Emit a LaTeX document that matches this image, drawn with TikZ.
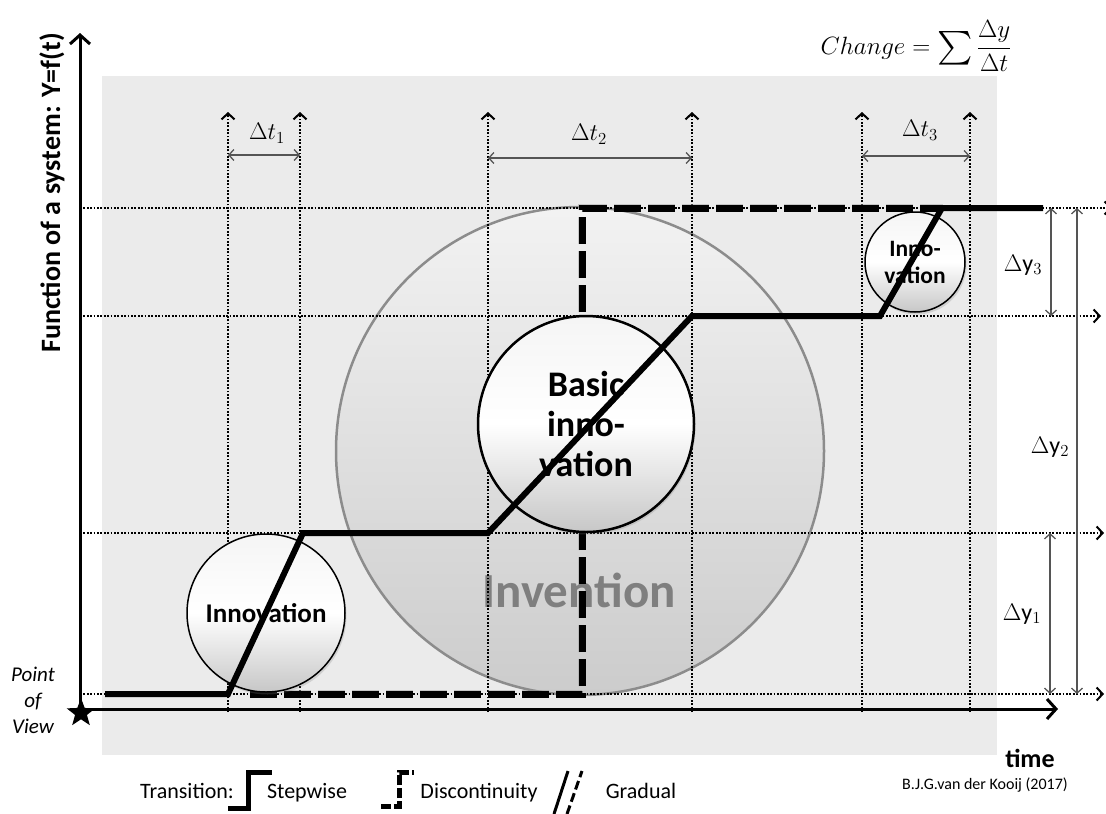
\RequirePackage{fix-cm}
\documentclass[tikz,border=0pt]{standalone}
\usepackage{amsmath}
\usepackage{fontspec}
\setmainfont{Carlito}
\usetikzlibrary{arrows.meta,shapes.geometric,shadows}

\definecolor{panel}{HTML}{EBEBEB}
\definecolor{ring}{HTML}{8C8C8C}
\definecolor{invtxt}{HTML}{7F7F7F}
\definecolor{measure}{HTML}{555555}

\newcommand\fsz[2]{\fontsize{#1}{#2}\selectfont}
\newcommand\bigsum{\mathop{\vcenter{\hbox{\scalebox{1.35}{$\sum$}}}}}

\begin{document}
\begin{tikzpicture}[x=1pt,y=-1pt,
  gridline/.style={line width=1.8pt, dash pattern=on 1.8pt off 1.6pt,
    -{Straight Barb[length=6pt,width=13pt,line width=2pt]}},
  measure/.style={draw=measure, line width=1.3pt,
    {Straight Barb[length=5pt,width=11pt]}-{Straight Barb[length=5pt,width=11pt]}},
  axis/.style={line width=3pt, -{Straight Barb[length=9pt,width=20pt,line width=3pt]}},
  stepline/.style={line width=6pt, line join=miter},
  jumpline/.style={line width=7pt, dash pattern=on 27pt off 7pt},
  jumpshadow/.style={line width=8pt, dash pattern=on 27pt off 7pt, black!40, opacity=.45},
  bubble/.style={circle, draw=black, line width=1.5pt, inner sep=0pt,
    top color=black!4, bottom color=black!22, middle color=white,
    align=center, font=\bfseries,
    drop shadow={opacity=.25, shadow xshift=1.5pt, shadow yshift=-2.5pt}},
  dlabel/.style={font=\fsz{24}{28}},
  ylabel/.style={font=\fsz{24}{28}},
  legend/.style={font=\fsz{22}{26}, anchor=base},
]
\useasboundingbox (0,0) rectangle (1106,814);

% panel
\fill[panel] (102,76) rectangle (997,755);

% invention sphere
\node[circle, minimum size=488pt, inner sep=0pt, draw=ring, line width=2.5pt,
  top color=black!5, bottom color=black!20] (inv) at (580,451) {};
\node[font=\bfseries\fsz{49}{55}, text=invtxt] (invtext) at (579,590) {Invention};

% level lines
\foreach \n/\y/\e in {0/694/1104, 1/533/1104, 2/316/1101, 3/208/1112} {
  \coordinate (hl\n) at (80,\y);
  \coordinate (hr\n) at (\e,\y);
  \draw[gridline] (hl\n) -- (hr\n);
}
% time marks
\foreach \n/\x in {1/228, 2/300, 3/488, 4/692, 5/862, 6/970} {
  \coordinate (vb\n) at (\x,712);
  \coordinate (vt\n) at (\x,112);
  \draw[gridline] (vb\n) -- (vt\n);
}

% discontinuous transition
\coordinate (d0) at (250,694);
\coordinate (d1) at (582,694);
\coordinate (d2) at (582,208);
\coordinate (d3) at (943,208);
\draw[jumpshadow, shift={(2,3)}] (d0) -- (d1) -- (d2) -- (d3);
\draw[jumpline] (d0) -- (d1) -- (d2) -- (d3);

% innovation bubbles
\node[bubble, minimum size=158pt, font=\bfseries\fsz{27}{30}] (inn1) at (266,613) {Innovation};
\node[bubble, minimum size=216pt, line width=2.5pt, font=\bfseries\fsz{36}{40}] (basic) at (586,424) {Basic\\inno-\\vation};
\node[bubble, minimum size=100pt, font=\bfseries\fsz{23.5}{27}] (inn3) at (915,262) {Inno-\\vation};

% stepwise / gradual path
\coordinate (s0) at (105,694);
\coordinate (s1) at (228,694);
\coordinate (s2) at (303,533);
\coordinate (s3) at (488,533);
\coordinate (s4) at (692,316);
\coordinate (s5) at (880,316);
\coordinate (s6) at (942,208);
\coordinate (s7) at (1043,208);
\draw[stepline] (s0) -- (s1) -- (s2) -- (s3) -- (s4) -- (s5) -- (s6) -- (s7);

% axes
\coordinate (o) at (80,709);
\coordinate (ytip) at (80,33);
\coordinate (xtip) at (1058,709);
\draw[axis] (80,712) -- (ytip);
\draw[axis] (o) -- (xtip);
\node[star, star points=5, star point ratio=2.4, fill=black, minimum size=30pt, inner sep=0pt] (pov) at (81,713) {};
\node[font=\itshape\fsz{21}{26}, align=center] (povtext) at (33,700) {Point\\of\\View};
\node[rotate=90, font=\bfseries\fsz{28}{32}] (ylab) at (52,193) {Function of a system: Y=f(t)};
\node[font=\bfseries\fsz{26}{30}] (xlab) at (1030,758) {time};

% time intervals
\coordinate (a1) at (228,155); \coordinate (b1) at (300,155);
\coordinate (a2) at (488,158); \coordinate (b2) at (692,158);
\coordinate (a3) at (862,156); \coordinate (b3) at (970,156);
\draw[measure] (a1) -- (b1);
\draw[measure] (a2) -- (b2);
\draw[measure] (a3) -- (b3);
\node[dlabel] (dt1) at (267,133) {$\Delta t_1$};
\node[dlabel] (dt2) at (589,134) {$\Delta t_2$};
\node[dlabel] (dt3) at (920,130) {$\Delta t_3$};

% level intervals
\coordinate (y3a) at (1051,208); \coordinate (y3b) at (1051,316);
\coordinate (y2a) at (1077,208); \coordinate (y2b) at (1077,694);
\coordinate (y1a) at (1050,533); \coordinate (y1b) at (1050,694);
\draw[measure] (y3a) -- (y3b);
\draw[measure] (y2a) -- (y2b);
\draw[measure] (y1a) -- (y1b);
\node[ylabel] (dy3) at (1023,265) {$\Delta\mathrm{y}_3$};
\node[ylabel] (dy2) at (1050,447) {$\Delta\mathrm{y}_2$};
\node[ylabel] (dy1) at (1022,614) {$\Delta\mathrm{y}_1$};

% formula
\node[font=\fsz{25}{29}, inner sep=0pt] (chg) at (916,46) {$Change = \bigsum\dfrac{\Delta y}{\Delta t}$};

% legend
\node[legend] (lgT) at (187,798) {Transition:};
\coordinate (st0) at (228,808); \coordinate (st1) at (248,808);
\coordinate (st2) at (248,772); \coordinate (st3) at (272,772);
\draw[line width=5pt, black!40, opacity=.45, shift={(2,3)}] (st0) -- (st1) -- (st2) -- (st3);
\draw[line width=5pt] (st0) -- (st1) -- (st2) -- (st3);
\node[legend] (lgS) at (307,798) {Stepwise};
\coordinate (dc0) at (381,806); \coordinate (dc1) at (399,806);
\coordinate (dc2) at (399,772); \coordinate (dc3) at (414,772);
\draw[line width=5pt, dash pattern=on 10pt off 3pt, black!40, opacity=.45, shift={(2,3)}] (dc0) -- (dc1) -- (dc2) -- (dc3);
\draw[line width=5pt, dash pattern=on 10pt off 3pt] (dc0) -- (dc1) -- (dc2) -- (dc3);
\node[legend] (lgD) at (479,798) {Discontinuity};
\coordinate (g0) at (554,814); \coordinate (g1) at (568,771);
\coordinate (g2) at (567,814); \coordinate (g3) at (582,771);
\draw[line width=3pt] (g0) -- (g1);
\draw[line width=3pt, dash pattern=on 9pt off 4pt] (g2) -- (g3);
\node[legend] (lgG) at (641,798) {Gradual};
\node[font=\fsz{16}{19}] (credit) at (985,785) {B.J.G.van der Kooij (2017)};
\end{tikzpicture}
\end{document}
